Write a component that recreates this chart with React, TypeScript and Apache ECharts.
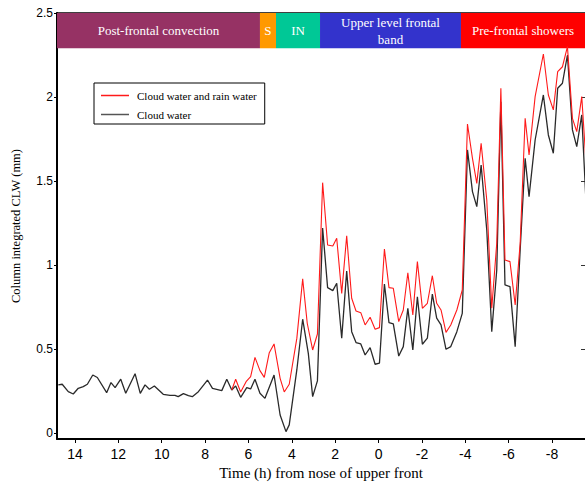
import React, { useEffect, useRef } from "react";
import * as echarts from "echarts";

const blackTime = [14.77, 14.59, 14.31, 14.08, 13.85, 13.62, 13.43, 13.18, 12.97, 12.54, 12.34, 12.15, 11.89, 11.66, 11.23, 10.99, 10.77, 10.57, 10.34, 9.93, 9.62, 9.39, 9.24, 9.0, 8.77, 8.59, 8.31, 7.89, 7.66, 7.23, 7.0, 6.77, 6.59, 6.36, 6.08, 5.9, 5.7, 5.47, 5.24, 4.82, 4.54, 4.27, 4.12, 3.77, 3.5, 3.24, 3.04, 2.82, 2.58, 2.35, 2.11, 1.93, 1.7, 1.47, 1.24, 1.04, 0.82, 0.62, 0.39, 0.16, -0.04, -0.27, -0.48, -0.68, -0.93, -1.14, -1.35, -1.58, -1.79, -2.02, -2.25, -2.48, -2.68, -2.88, -3.11, -3.33, -3.61, -3.86, -4.1, -4.33, -4.53, -4.73, -4.99, -5.22, -5.45, -5.64, -5.83, -6.06, -6.3, -6.53, -6.76, -6.94, -7.22, -7.6, -7.83, -8.06, -8.26, -8.48, -8.71, -8.94, -9.14, -9.37, -9.57];
const cloudWater = [0.286, 0.29, 0.246, 0.232, 0.266, 0.276, 0.29, 0.345, 0.33, 0.24, 0.3, 0.27, 0.32, 0.236, 0.353, 0.236, 0.286, 0.26, 0.28, 0.23, 0.224, 0.224, 0.216, 0.234, 0.222, 0.216, 0.246, 0.315, 0.265, 0.252, 0.32, 0.256, 0.28, 0.212, 0.27, 0.262, 0.32, 0.236, 0.206, 0.345, 0.107, 0.008, 0.048, 0.375, 0.677, 0.474, 0.216, 0.31, 1.22, 0.865, 0.847, 0.891, 0.564, 0.964, 0.603, 0.538, 0.53, 0.464, 0.508, 0.409, 0.415, 0.887, 0.657, 0.649, 0.458, 0.514, 0.742, 0.494, 0.811, 0.528, 0.564, 0.827, 0.683, 0.643, 0.498, 0.514, 0.603, 0.712, 1.685, 1.437, 1.347, 1.595, 1.208, 0.603, 0.97, 1.972, 0.881, 0.871, 0.514, 1.089, 1.635, 1.407, 1.744, 2.012, 1.774, 1.665, 2.052, 2.082, 2.25, 1.804, 1.705, 1.893, 1.367];

const redTime = [6.77, 6.59, 6.36, 6.11, 5.9, 5.7, 5.47, 5.27, 5.04, 4.82, 4.54, 4.35, 4.12, 3.77, 3.5, 3.29, 3.04, 2.82, 2.58, 2.35, 2.11, 1.93, 1.7, 1.47, 1.24, 1.04, 0.82, 0.62, 0.39, 0.16, -0.04, -0.27, -0.48, -0.68, -0.93, -1.14, -1.35, -1.58, -1.79, -2.02, -2.25, -2.48, -2.68, -2.88, -3.11, -3.33, -3.61, -3.86, -4.1, -4.33, -4.53, -4.73, -4.99, -5.22, -5.45, -5.64, -5.83, -6.06, -6.3, -6.53, -6.76, -6.94, -7.22, -7.6, -7.83, -8.06, -8.26, -8.48, -8.71, -8.94, -9.14, -9.37, -9.57];
const cloudRainWater = [0.256, 0.32, 0.244, 0.305, 0.335, 0.45, 0.371, 0.331, 0.478, 0.53, 0.325, 0.244, 0.29, 0.563, 0.917, 0.653, 0.494, 0.589, 1.49, 1.119, 1.113, 1.159, 0.831, 1.173, 0.802, 0.726, 0.716, 0.643, 0.689, 0.617, 0.627, 1.095, 0.865, 0.861, 0.663, 0.732, 0.954, 0.702, 1.02, 0.742, 0.772, 0.936, 0.772, 0.732, 0.599, 0.643, 0.732, 0.851, 1.839, 1.635, 1.486, 1.724, 1.387, 0.742, 1.129, 2.052, 1.03, 1.02, 0.762, 1.129, 1.873, 1.655, 2.002, 2.256, 2.012, 1.923, 2.151, 2.18, 2.3, 1.873, 1.794, 2.002, 1.605];

const xTicks = [14, 12, 10, 8, 6, 4, 2, 0, -2, -4, -6, -8];
const yTicks = [0, 0.5, 1, 1.5, 2, 2.5];
const yRightTicks = [0.5, 1, 1.5, 2];

const bandNames = ["Post-frontal convection", "S", "IN", "Upper level frontal\nband", "Pre-frontal showers"];
const bandFrom = [14.83, 5.47, 4.73, 2.7, -3.8];
const bandTo = [5.47, 4.73, 2.7, -3.8, -9.52];
const bandColors = ["#963264", "#FF9900", "#00C896", "#3333CC", "#FF0000"];
const bandBottom = 2.29;

const X_MIN = -9.52;
const X_MAX = 14.83;
const Y_MIN = -0.036;
const Y_MAX = 2.5;

const SERIF = "'Liberation Serif', 'Times New Roman', serif";
const SANS = "'Liberation Sans', Arial, sans-serif";

export default function App() {
  const ref = useRef<HTMLDivElement>(null);
  useEffect(() => {
    if (!ref.current) return;
    const chart = echarts.init(ref.current, undefined, { renderer: "svg" });
    const bands = bandNames.map((n, i) => [
      {
        name: n,
        xAxis: bandFrom[i],
        yAxis: bandBottom,
        itemStyle: { color: bandColors[i], opacity: 1 },
      },
      { xAxis: bandTo[i], yAxis: Y_MAX },
    ]);
    chart.setOption({
      animation: false,
      backgroundColor: "#fff",
      grid: { left: 57, right: 0, top: 13, bottom: 44, containLabel: false, outerBoundsMode: "none" },
      legend: {
        orient: "vertical",
        left: 94,
        top: 83,
        width: 175,
        padding: [7, 8, 4, 7],
        borderColor: "#000",
        borderWidth: 1,
        itemWidth: 28,
        itemHeight: 1.5,
        itemGap: 8,
        icon: "rect",
        data: ["Cloud water and rain water", "Cloud water"],
        textStyle: { fontFamily: SERIF, fontSize: 11, color: "#000", padding: [0, 0, 0, 3] },
      },
      xAxis: [
        {
          type: "value",
          inverse: true,
          min: X_MIN,
          max: X_MAX,
          name: "Time (h) from nose of upper front",
          nameLocation: "middle",
          nameGap: 26,
          nameTextStyle: { fontFamily: SERIF, fontSize: 15, color: "#000" },
          axisLine: { onZero: false, lineStyle: { color: "#000", width: 2 } },
          axisTick: { length: 4, lineStyle: { color: "#000" }, customValues: xTicks },
          axisLabel: { fontFamily: SANS, fontSize: 14, color: "#000", margin: 8, customValues: xTicks },
          splitLine: { show: false },
        },
        {
          type: "value",
          inverse: true,
          position: "top",
          min: X_MIN,
          max: X_MAX,
          axisLine: { onZero: false, lineStyle: { color: "#000", width: 1.5 } },
          axisTick: { show: false },
          axisLabel: { show: false },
          splitLine: { show: false },
        },
      ],
      yAxis: [
        {
          type: "value",
          min: Y_MIN,
          max: Y_MAX,
          name: "Column integrated CLW (mm)",
          nameLocation: "middle",
          nameGap: 35,
          nameTextStyle: { fontFamily: SERIF, fontSize: 12.5, color: "#000" },
          axisLine: { show: true, onZero: false, lineStyle: { color: "#000", width: 2 } },
          axisTick: { show: true, length: 3, lineStyle: { color: "#000" }, customValues: yTicks },
          axisLabel: {
            fontFamily: SANS,
            fontSize: 12,
            color: "#000",
            margin: 4,
            customValues: yTicks,
            formatter: (v: number) => String(v),
          },
          splitLine: { show: false },
        },
        {
          type: "value",
          position: "right",
          min: Y_MIN,
          max: Y_MAX,
          axisLine: { show: false, onZero: false },
          axisTick: { show: true, inside: true, length: 4, lineStyle: { color: "#333" }, customValues: yRightTicks },
          axisLabel: { show: false },
          splitLine: { show: false },
        },
      ],
      series: [
        {
          name: "Cloud water",
          type: "line",
          data: blackTime.map((t, i) => [t, cloudWater[i]]),
          showSymbol: false,
          symbol: "none",
          lineStyle: { color: "#2a2a2a", width: 1.3 },
          itemStyle: { color: "#555" },
          z: 2,
          markArea: {
            silent: true,
            data: bands,
            label: {
              show: true,
              position: "inside",
              color: "#fff",
              fontFamily: SERIF,
              fontSize: 13,
              lineHeight: 17,
            },
          },
        },
        {
          name: "Cloud water and rain water",
          type: "line",
          data: redTime.map((t, i) => [t, cloudRainWater[i]]),
          showSymbol: false,
          symbol: "none",
          lineStyle: { color: "#FF1A1A", width: 1.1 },
          itemStyle: { color: "#FF1A1A" },
          z: 3,
        },
      ],
    });
    return () => chart.dispose();
  }, []);
  return (
    <div
      ref={ref}
      style={{ position: "fixed", left: 0, top: 0, width: 585, height: 483, background: "#fff" }}
    />
  );
}
